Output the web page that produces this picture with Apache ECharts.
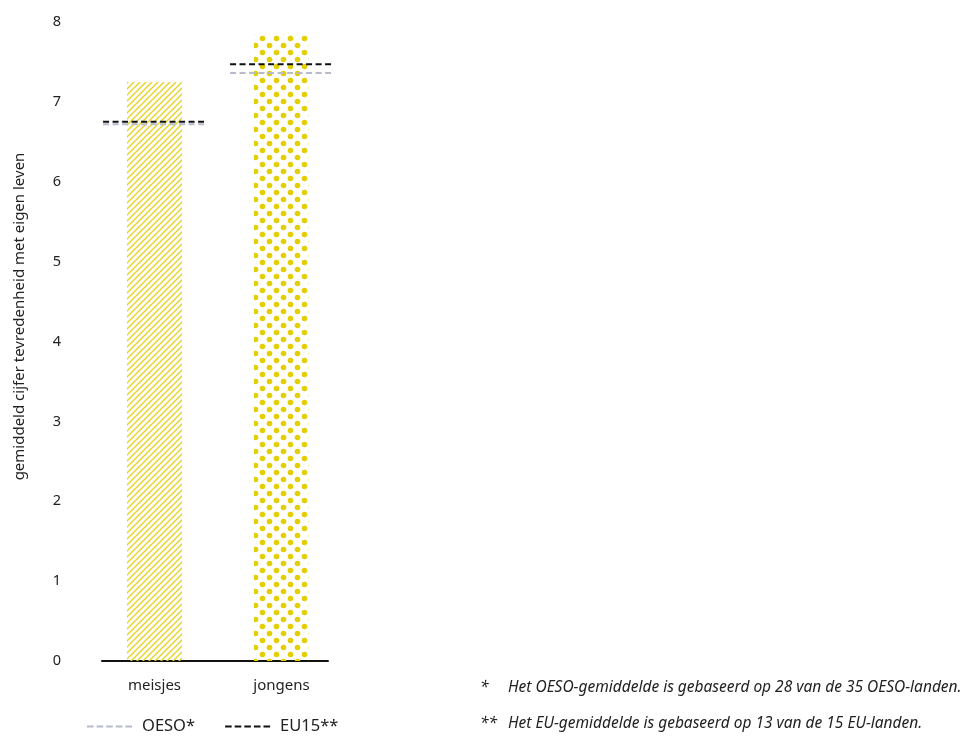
<!DOCTYPE html>
<html>
<head>
<meta charset="utf-8">
<script src="https://cdn.jsdelivr.net/npm/echarts@6/dist/echarts.min.js"></script>
<style>
html,body{margin:0;padding:0;background:#fff;}
#chart{width:968px;height:736px;}
</style>
</head>
<body>
<div id="chart"></div>
<script>
// ---- data ----
const categories = ['meisjes', 'jongens'];
const barValues = [7.25, 7.85];
const oesoValues = [6.72, 7.36];
const eu15Values = [6.75, 7.47];
const yTicks = [0, 1, 2, 3, 4, 5, 6, 7, 8];
const yAxisName = 'gemiddeld cijfer tevredenheid met eigen leven';
const legendNames = ['OESO*', 'EU15**'];
const footnoteMarks = ['*', '**'];
const footnoteTexts = [
  'Het OESO-gemiddelde is gebaseerd op 28 van de 35 OESO-landen.',
  'Het EU-gemiddelde is gebaseerd op 13 van de 15 EU-landen.'
];

// ---- patterns ----
const YELLOW = '#e5d21c';
function hatchPattern() {
  const c = document.createElement('canvas');
  c.width = 6; c.height = 6;
  const g = c.getContext('2d');
  g.strokeStyle = YELLOW;
  g.lineWidth = 1.3;
  g.beginPath();
  g.moveTo(0, 6); g.lineTo(6, 0);
  g.moveTo(-3, 3); g.lineTo(3, -3);
  g.moveTo(3, 9); g.lineTo(9, 3);
  g.stroke();
  return c;
}
function dotPattern() {
  const c = document.createElement('canvas');
  c.width = 14; c.height = 14;
  const g = c.getContext('2d');
  g.fillStyle = '#e3cf00';
  g.beginPath(); g.arc(3.5, 3.5, 2.8, 0, Math.PI * 2); g.fill();
  g.beginPath(); g.arc(10.5, 10.5, 2.8, 0, Math.PI * 2); g.fill();
  return c;
}
const patterns = [
  { image: hatchPattern(), repeat: 'repeat' },
  { image: dotPattern(), repeat: 'repeat' }
];

const FONT = '"Noto Sans", Lato, sans-serif';
const FOOT_FONT = 'italic 15.5px ' + FONT;
const dashIcon = 'path://M0,0h22v6h-22zM32,0h22v6h-22zM64,0h22v6h-22zM96,0h22v6h-22zM128,0h22v6h-22z';

// measure footnote width so that the longest line ends near the right edge
const mctx = document.createElement('canvas').getContext('2d');
mctx.font = FOOT_FONT;
const footW = Math.max.apply(null, footnoteTexts.map(t => mctx.measureText(t).width));
const footLeft = Math.round(962 - footW);

function refLine(color, width) {
  return function (params, api) {
    const p = api.coord([api.value(0), api.value(1)]);
    const band = api.size([1, 0])[0];
    const hw = band * 0.405;
    return {
      type: 'line',
      shape: { x1: p[0] - hw, y1: p[1], x2: p[0] + hw, y2: p[1] },
      style: { stroke: color, lineWidth: width, lineDash: [6, 3.5] }
    };
  };
}

const chart = echarts.init(document.getElementById('chart'), null, { renderer: 'canvas' });
chart.setOption({
  backgroundColor: '#fff',
  animation: false,
  textStyle: { fontFamily: FONT },
  grid: [
    { left: 91, width: 254, top: 22, bottom: 75 },
    { left: 102, width: 226, top: 22, bottom: 75 }
  ],
  xAxis: [
    {
      type: 'category', gridIndex: 0, data: categories,
      axisLine: { show: false }, axisTick: { show: false },
      axisLabel: { color: '#222', fontSize: 15, margin: 17, fontFamily: FONT }
    },
    {
      type: 'category', gridIndex: 1, data: categories,
      axisLine: { show: true, lineStyle: { color: '#111', width: 2 } },
      axisTick: { show: false }, axisLabel: { show: false }
    }
  ],
  yAxis: [
    {
      type: 'value', gridIndex: 0, min: yTicks[0], max: yTicks[yTicks.length - 1], interval: 1,
      axisLine: { show: false }, axisTick: { show: false }, splitLine: { show: false },
      axisLabel: { color: '#222', fontSize: 14.5, margin: 30, fontFamily: FONT },
      name: yAxisName, nameLocation: 'middle', nameGap: 64, nameRotate: 90,
      nameTextStyle: { color: '#222', fontSize: 15, fontFamily: FONT, padding: [0, 0, 0, 50] }
    },
    {
      type: 'value', gridIndex: 1, min: yTicks[0], max: yTicks[yTicks.length - 1], interval: 1,
      show: false
    }
  ],
  legend: {
    left: 82, top: 713,
    itemWidth: 45, itemHeight: 2, itemGap: 30,
    textStyle: { color: '#222', fontSize: 16.5, fontFamily: FONT, padding: [0, 0, 0, 5] },
    data: [
      { name: legendNames[0], icon: dashIcon },
      { name: legendNames[1], icon: dashIcon }
    ]
  },
  series: [
    {
      type: 'bar', xAxisIndex: 0, yAxisIndex: 0, barWidth: 55,
      data: barValues.map((v, i) => ({ value: v, itemStyle: { color: patterns[i] } }))
    },
    {
      name: legendNames[0], type: 'custom', xAxisIndex: 0, yAxisIndex: 0,
      itemStyle: { color: '#b8bbca' },
      renderItem: refLine('#b8bbca', 2),
      data: oesoValues.map((v, i) => [i, v]), z: 3
    },
    {
      name: legendNames[1], type: 'custom', xAxisIndex: 0, yAxisIndex: 0,
      itemStyle: { color: '#111' },
      renderItem: refLine('#111', 2),
      data: eu15Values.map((v, i) => [i, v]), z: 4
    }
  ],
  graphic: footnoteTexts.flatMap((t, i) => [
    { type: 'text', left: footLeft - 28, top: 680 + i * 36,
      style: { text: footnoteMarks[i], font: FOOT_FONT, fill: '#222' } },
    { type: 'text', left: footLeft, top: 680 + i * 36,
      style: { text: t, font: FOOT_FONT, fill: '#222' } }
  ])
});
</script>
</body>
</html>
